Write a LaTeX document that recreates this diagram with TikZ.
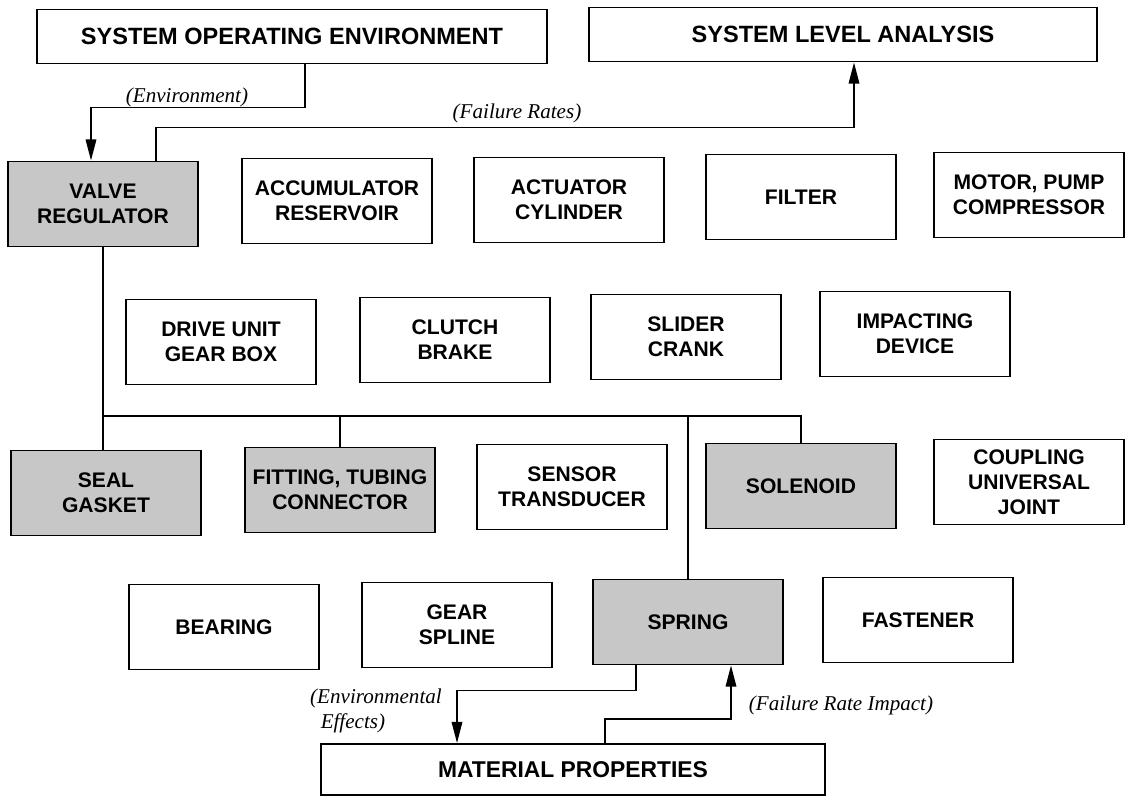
\documentclass[tikz,border=0pt]{standalone}
\usepackage{fontspec}
\setmainfont{Liberation Serif}
\newfontfamily\headfont{Liberation Sans}
\usetikzlibrary{
  arrows.meta,
  calc
}
\tikzset{
  >={Triangle[length=12pt,width=6pt]},
  flow/.style={->,line width=0.9pt,draw=black},
  link/.style={line width=0.9pt,draw=black},
  box/.style={
    draw=black,
    line width=1.1pt,
    fill=white,
    align=center,
    inner sep=2pt,
    font=\headfont\bfseries\fontsize{12}{14.2}\selectfont
  },
  part/.style={box,minimum width=3.8cm,minimum height=1.7cm},
  shaded part/.style={part,fill=black!22},
  wide box/.style={
    box,
    minimum height=1.08cm,
    font=\headfont\bfseries\fontsize{13.4}{16}\selectfont
  },
  note/.style={font=\itshape\fontsize{12}{14}\selectfont,align=left}
}

\begin{document}
\begin{tikzpicture}[x=0.02cm,y=-0.02cm]
  \useasboundingbox (0,0) rectangle (1126,798);

  \node[wide box,minimum width=10.2cm] (soe) at (292,36.5)
    {SYSTEM OPERATING ENVIRONMENT};
  \node[wide box,minimum width=10.16cm] (sla) at (843,34.5)
    {SYSTEM LEVEL ANALYSIS};
  \node[wide box,minimum width=10.08cm,minimum height=1.02cm,
    font=\headfont\bfseries\fontsize{13}{15}\selectfont] (material) at (573,769.5)
    {MATERIAL PROPERTIES};

  \foreach \id/\x/\y/\lbl in {
    accum/337/201/{ACCUMULATOR\\RESERVOIR},
    actuator/569/200/{ACTUATOR\\CYLINDER},
    filter/801/197/{FILTER},
    motor/1029/195/{MOTOR, PUMP\\COMPRESSOR},
    drive/221/342/{DRIVE UNIT\\GEAR BOX},
    clutch/455/340/{CLUTCH\\BRAKE},
    slider/686/337/{SLIDER\\CRANK},
    impact/915/334/{IMPACTING\\DEVICE},
    sensor/572/487/{SENSOR\\TRANSDUCER},
    coupling/1029/482/{COUPLING\\UNIVERSAL\\JOINT},
    bearing/224/627/{BEARING},
    gear/457/625/{GEAR\\SPLINE},
    fastener/918/620/{FASTENER}} {
    \node[part] (\id) at (\x,\y) {\lbl};
  }

  \foreach \id/\x/\y/\lbl in {
    valve/103/204/{VALVE\\REGULATOR},
    seal/106/493/{SEAL\\GASKET},
    fitting/340/490/{FITTING, TUBING\\CONNECTOR},
    solenoid/801/486/{SOLENOID},
    spring/688/622/{SPRING}} {
    \node[shaded part] (\id) at (\x,\y) {\lbl};
  }

  \coordinate (bus) at (0,416);

  \draw[flow] ($(soe.south)+(13,0)$) -- ++(0,43) -| ($(valve.north)+(-12,0)$);
  \draw[flow] ($(valve.north)+(53,0)$) -- ++(0,-33) -| ($(sla.south)+(11,0)$);

  \draw[link] (valve.south) -- (valve.south |- bus) -- (bus -| solenoid.north)
    -- (solenoid.north);
  \draw[link] (valve.south |- bus) -- (valve.south |- seal.north);
  \draw[link] (fitting.north) -- (fitting.north |- bus);
  \draw[link] (spring.north) -- (spring.north |- bus);

  \draw[flow] ($(spring.south)+(-52,0)$) -- ++(0,25) -| ($(material.north)+(-116,0)$);
  \draw[flow] ($(material.north)+(32,0)$) -- ++(0,-24) -| ($(spring.south)+(43,0)$);

  \node[note] (envnote) at (187,97) {(Environment)};
  \node[note] (ratenote) at (517,113) {(Failure Rates)};
  \node[note,anchor=west] (effnote) at (304,711) {(Environmental\\\hspace*{0.5em}Effects)};
  \node[note] (impnote) at (841,705) {(Failure Rate Impact)};
\end{tikzpicture}
\end{document}
